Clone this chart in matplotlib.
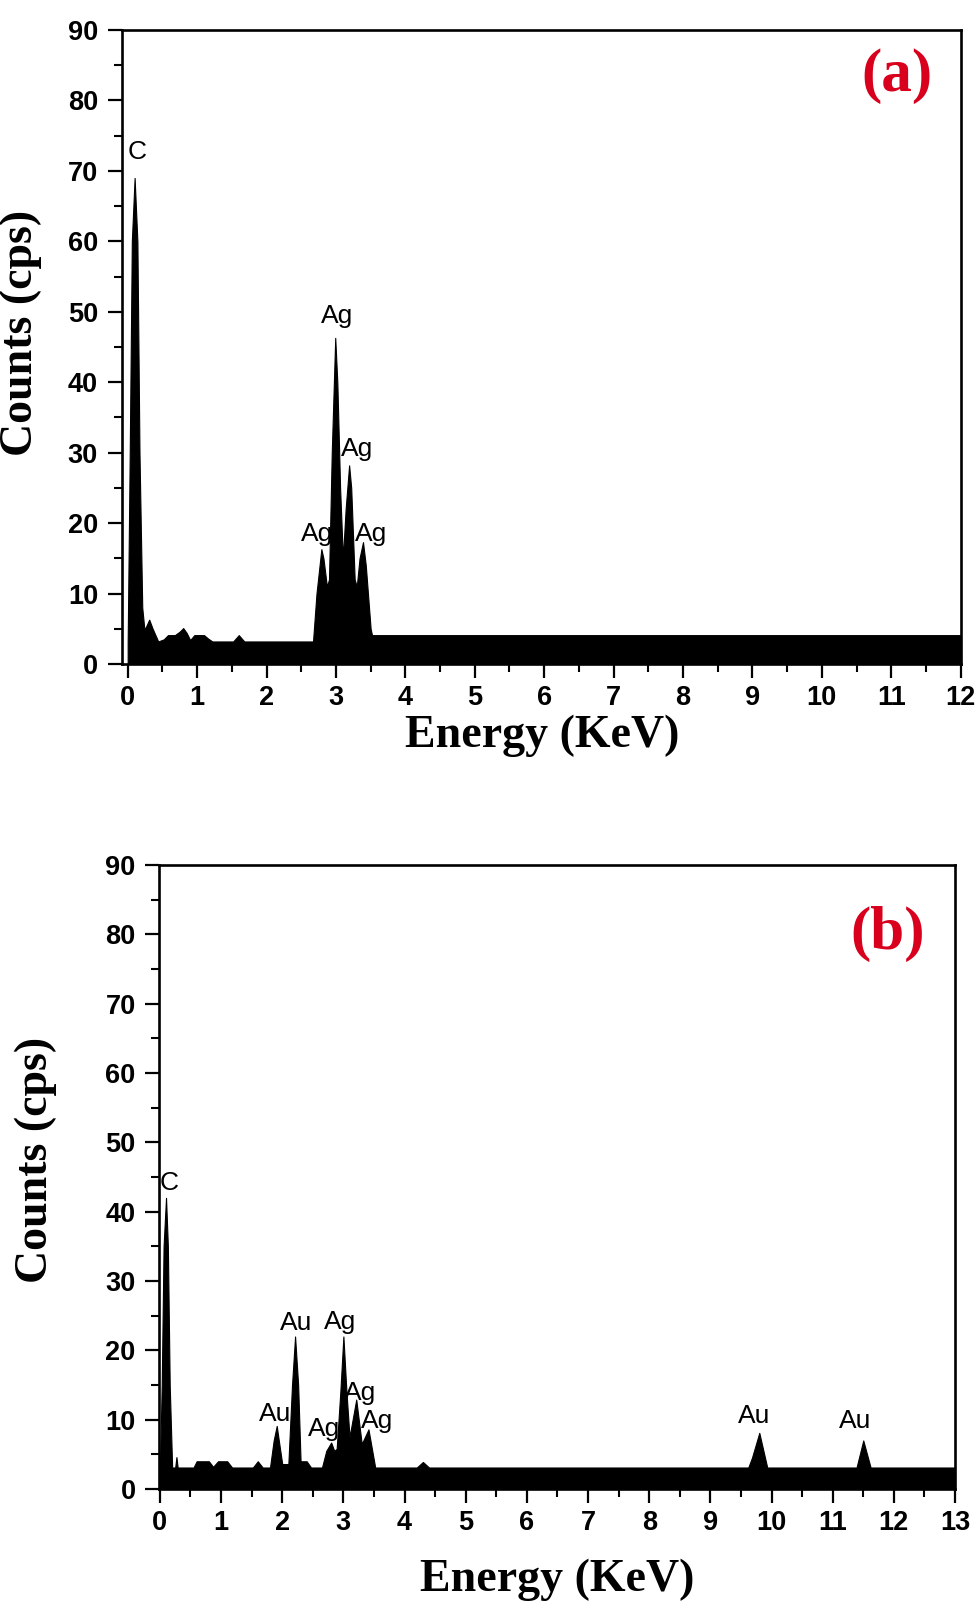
import matplotlib
matplotlib.use("Agg")
import matplotlib.pyplot as plt
from matplotlib.ticker import MultipleLocator

# ---------------- data ----------------
energy_a = [0.0, 0.03, 0.06, 0.10, 0.14, 0.17, 0.21, 0.24, 0.26, 0.31, 0.36, 0.44, 0.52, 0.58,
            0.68, 0.75, 0.80, 0.85, 0.90, 0.96, 1.10, 1.16, 1.22, 1.52, 1.60, 1.68, 2.67,
            2.72, 2.79, 2.82, 2.87, 2.90, 2.94, 2.99, 3.02, 3.06, 3.10, 3.14, 3.19, 3.22,
            3.27, 3.30, 3.34, 3.39, 3.43, 3.50, 3.52, 12.0]
counts_a = [3.0, 30, 60, 69, 60, 30, 8, 5.0, 5.2, 6.3, 5.0, 3.2, 3.5, 4.1,
            4.1, 4.6, 5.1, 4.4, 3.4, 4.1, 4.1, 3.6, 3.2, 3.2, 4.1, 3.2, 3.2,
            10, 16.3, 15, 11, 12, 30, 46.3, 40, 25, 15, 22, 28.2, 25,
            12, 11, 15, 17.3, 14, 5, 4.1, 4.1]

energy_b = [0.0, 0.03, 0.06, 0.10, 0.13, 0.16, 0.20, 0.25, 0.27, 0.29, 0.55, 0.60, 0.80,
            0.87, 0.95, 1.10, 1.18, 1.52, 1.60, 1.68, 1.80, 1.86, 1.91, 1.96, 2.00, 2.10,
            2.16, 2.21, 2.26, 2.30, 2.40, 2.47, 2.65, 2.72, 2.80, 2.85, 2.89, 2.95, 3.00,
            3.05, 3.10, 3.21, 3.30, 3.41, 3.52, 4.20, 4.30, 4.40, 9.62, 9.68, 9.80, 9.93,
            11.39, 11.50, 11.62, 13.0]
counts_b = [3.0, 15, 35, 42, 35, 15, 3.1, 3.1, 4.6, 3.1, 3.1, 4.0, 4.0,
            3.2, 4.0, 4.0, 3.1, 3.1, 4.0, 3.1, 3.1, 7.0, 9.1, 6.0, 3.6, 3.6,
            15, 22, 15, 4.0, 4.0, 3.1, 3.1, 5.5, 6.7, 5.5, 5.8, 14, 22,
            14, 7.5, 12.9, 6.5, 8.6, 3.1, 3.1, 3.9, 3.1, 3.1, 4.5, 8.1, 3.1,
            3.1, 7.0, 3.1, 3.1]

labels_a = ["C", "Ag", "Ag", "Ag", "Ag"]
label_x_a = [0.14, 3.01, 3.30, 2.73, 3.50]
label_y_a = [72.7, 49.4, 30.5, 18.5, 18.5]

labels_b = ["C", "Au", "Ag", "Au", "Ag", "Ag", "Ag", "Au", "Au"]
label_x_b = [0.15, 2.23, 2.95, 1.88, 2.68, 3.28, 3.55, 9.71, 11.37]
label_y_b = [44.2, 23.9, 24.1, 10.8, 8.7, 13.9, 9.8, 10.5, 9.8]

xmax_a, xmax_b = 12, 13
ymax = 90

# ---------------- figure ----------------
W, H = 980, 1609
fig = plt.figure(figsize=(W / 100, H / 100), dpi=100)

def px_axes(left, right, top, bottom):
    return fig.add_axes([left / W, (H - bottom) / H, (right - left) / W, (bottom - top) / H])

ax_a = px_axes(121.7, 960.7, 30, 664)
ax_b = px_axes(159.3, 955, 865, 1489)

tick_font = dict(family="Liberation Sans", weight="bold", size=19.5)

def style(ax, xmin, xmax):
    ax.set_xlim(xmin, xmax)
    ax.set_ylim(0, ymax)
    ax.xaxis.set_major_locator(MultipleLocator(1))
    ax.xaxis.set_minor_locator(MultipleLocator(0.5))
    ax.yaxis.set_major_locator(MultipleLocator(10))
    ax.yaxis.set_minor_locator(MultipleLocator(5))
    ax.tick_params(which="major", direction="out", length=10, width=1.6, pad=5)
    ax.tick_params(which="minor", direction="out", length=5.5, width=1.5)
    ax.tick_params(axis="y", which="major", pad=7)
    for sp in ax.spines.values():
        sp.set_linewidth(1.9)
    for lab in ax.get_xticklabels() + ax.get_yticklabels():
        lab.set_fontfamily(tick_font["family"])
        lab.set_fontweight(tick_font["weight"])
        lab.set_fontsize(tick_font["size"])

ax_a.fill_between(energy_a, counts_a, 0, color="black", lw=0.8, edgecolor="black", zorder=1)
ax_b.fill_between(energy_b, counts_b, 0, color="black", lw=0.8, edgecolor="black", zorder=1)

style(ax_a, -0.086, xmax_a)
style(ax_b, -0.01, xmax_b)

for t, x, y in zip(labels_a, label_x_a, label_y_a):
    ax_a.text(x, y, t, ha="center", va="center", fontsize=19, family="Liberation Sans")
for t, x, y in zip(labels_b, label_x_b, label_y_b):
    ax_b.text(x, y, t, ha="center", va="center", fontsize=19, family="Liberation Sans")

serif_bold = dict(family="Liberation Serif", weight="bold")
red = "#d8001c"
fig.text(897 / W, 1 - 76 / H, "(a)", ha="center", va="center", fontsize=44, color=red, **serif_bold)
fig.text(888 / W, 1 - 934 / H, "(b)", ha="center", va="center", fontsize=44, color=red, **serif_bold)

fig.text(21 / W, 1 - 333 / H, "Counts (cps)", rotation=90, ha="center", va="center", fontsize=33, **serif_bold)
fig.text(36 / W, 1 - 1160 / H, "Counts (cps)", rotation=90, ha="center", va="center", fontsize=33, **serif_bold)
fig.text(542 / W, 1 - 736 / H, "Energy (KeV)", ha="center", va="center", fontsize=33, **serif_bold)
fig.text(557 / W, 1 - 1580 / H, "Energy (KeV)", ha="center", va="center", fontsize=33, **serif_bold)

fig.savefig("out.png", dpi=100)
